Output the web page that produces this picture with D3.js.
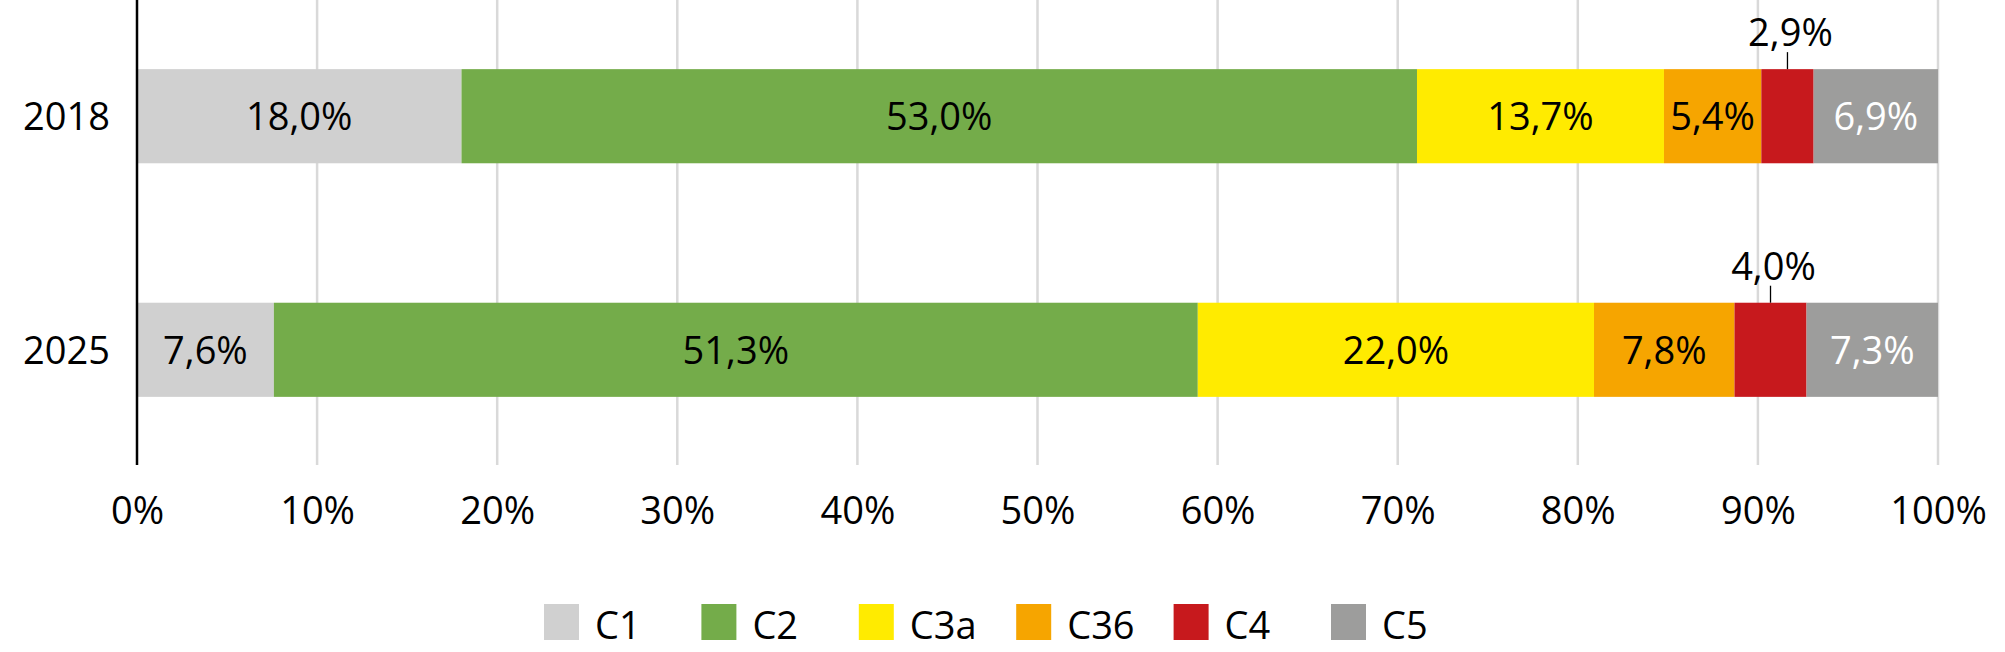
<!DOCTYPE html>
<html>
<head>
<meta charset="utf-8">
<script src="https://cdn.jsdelivr.net/npm/d3@7"></script>
<style>
  body { margin: 0; background: #fff; }
  text { font-family: "Open Sans", sans-serif; }
</style>
</head>
<body>
<svg id="chart" width="2005" height="652"></svg>
<script>
const categories = ['2018', '2025'];
const seriesNames = ['C1', 'C2', 'C3a', 'C36', 'C4', 'C5'];
const values2018 = [18.0, 53.0, 13.7, 5.4, 2.9, 6.9];
const values2025 = [7.6, 51.3, 22.0, 7.8, 4.0, 7.3];
const tickValues = [0, 0.1, 0.2, 0.3, 0.4, 0.5, 0.6, 0.7, 0.8, 0.9, 1];
const colors = ['#d0d0d0', '#74ac4a', '#ffeb00', '#f6a500', '#c7191d', '#9d9d9c'];

const svg = d3.select('#chart');
const fontSize = 38;

const table = categories.map((c, i) => {
    const row = {cat: c};
    const vals = i === 0 ? values2018 : values2025;
    seriesNames.forEach((s, j) => row[s] = vals[j]);
    return row;
});

const stack = d3.stack().keys(seriesNames).offset(d3.stackOffsetExpand);
const layers = stack(table);

const x = d3.scaleLinear().domain([0, 1]).range([137, 1938]);
const y = d3.scaleBand().domain(categories).range([0, 466])
        .paddingInner(0.597).paddingOuter(0.296);

// gridlines
svg.append('g')
        .selectAll('line')
        .data(tickValues.slice(1))
        .join('line')
        .attr('x1', d => x(d)).attr('x2', d => x(d))
        .attr('y1', 0).attr('y2', 465)
        .attr('stroke', '#d9d9d9')
        .attr('stroke-width', 2.5);

// bars
const layerG = svg.append('g')
        .selectAll('g')
        .data(layers)
        .join('g')
        .attr('fill', (d, i) => colors[i]);

layerG.selectAll('rect')
        .data(d => d)
        .join('rect')
        .attr('x', d => x(d[0]))
        .attr('width', d => x(d[1]) - x(d[0]))
        .attr('y', d => y(d.data.cat))
        .attr('height', y.bandwidth());

const fmt = v => d3.format('.1f')(v).replace('.', ',') + '%';

// value labels
layers.forEach((layer, i) => {
    const key = layer.key;
    const outside = key === 'C4';
    const g = svg.append('g');
    layer.forEach(d => {
        const cx = (x(d[0]) + x(d[1])) / 2;
        const top = y(d.data.cat);
        if (outside) {
            g.append('line')
                    .attr('x1', cx).attr('x2', cx)
                    .attr('y1', top - 17).attr('y2', top)
                    .attr('stroke', '#000')
                    .attr('stroke-width', 1.3);
            g.append('text')
                    .attr('x', cx + 3)
                    .attr('y', top - 23)
                    .attr('text-anchor', 'middle')
                    .attr('font-size', fontSize)
                    .attr('fill', '#000')
                    .text(fmt(d.data[key]));
        } else {
            g.append('text')
                    .attr('x', cx)
                    .attr('y', top + y.bandwidth() / 2 + 14)
                    .attr('text-anchor', 'middle')
                    .attr('font-size', fontSize)
                    .attr('fill', key === 'C5' ? '#fff' : '#000')
                    .text(fmt(d.data[key]));
        }
    });
});

// category axis
svg.append('line')
        .attr('x1', x(0)).attr('x2', x(0))
        .attr('y1', 0).attr('y2', 465)
        .attr('stroke', '#000')
        .attr('stroke-width', 2.5);

svg.append('g')
        .selectAll('text')
        .data(categories)
        .join('text')
        .attr('x', 110)
        .attr('y', d => y(d) + y.bandwidth() / 2 + 14)
        .attr('text-anchor', 'end')
        .attr('font-size', fontSize)
        .attr('fill', '#000')
        .text(d => d);

// value axis labels
const xAxis = d3.axisBottom(x)
        .tickValues(tickValues)
        .tickSize(0)
        .tickPadding(0)
        .tickFormat(d => Math.round(d * 100) + '%');

const axisG = svg.append('g')
        .attr('transform', 'translate(0,497)')
        .call(xAxis);
axisG.select('.domain').remove();
axisG.selectAll('text')
        .attr('font-size', fontSize)
        .attr('font-family', '"Open Sans", sans-serif')
        .attr('fill', '#000')
        .attr('dy', '0.71em');

// legend
const legend = svg.append('g')
        .selectAll('g')
        .data(seriesNames)
        .join('g')
        .attr('transform', (d, i) => `translate(${544 + i * 157.4},604)`);

legend.append('rect')
        .attr('width', 35)
        .attr('height', 36)
        .attr('fill', (d, i) => colors[i]);

legend.append('text')
        .attr('x', 51)
        .attr('y', 35)
        .attr('font-size', fontSize)
        .attr('fill', '#000')
        .text(d => d);
</script>
</body>
</html>
